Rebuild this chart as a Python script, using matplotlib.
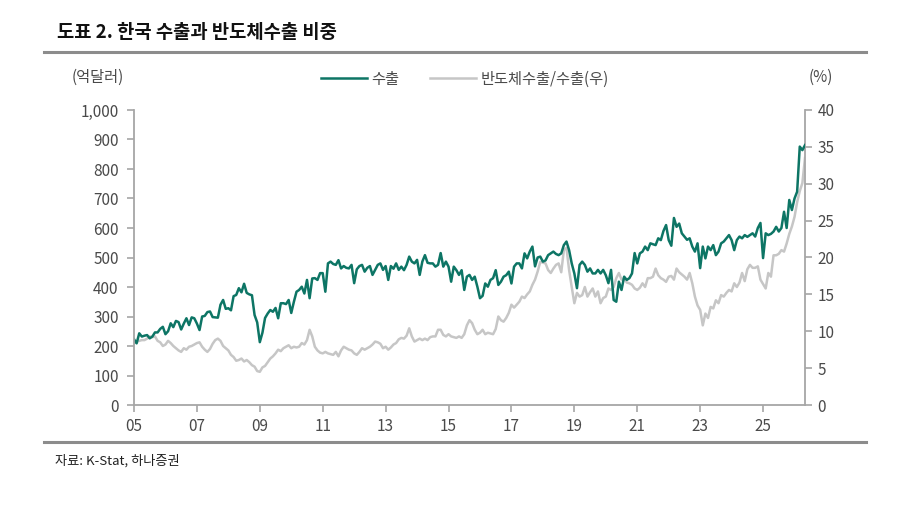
import numpy as np
import matplotlib
matplotlib.use('Agg')
import matplotlib.pyplot as plt
from matplotlib.lines import Line2D

plt.rcParams['font.family'] = ['Noto Sans CJK KR', 'DejaVu Sans']

#%% data (monthly, Jan 2005 ~ May 2026)
# 수출 (억달러)
exports = [
    223, 209, 243, 232, 235, 237, 226, 232, 246, 246, 258, 265,   # 2005
    240, 250, 277, 264, 285, 281, 256, 276, 294, 271, 297, 294,   # 2006
    276, 254, 300, 302, 315, 317, 298, 297, 296, 340, 356, 326,   # 2007
    328, 321, 369, 373, 396, 382, 411, 380, 375, 372, 305, 280,   # 2008
    213, 245, 295, 310, 322, 316, 329, 294, 345, 345, 342, 356,   # 2009
    312, 350, 384, 390, 401, 378, 424, 362, 429, 430, 424, 447,   # 2010
    447, 384, 480, 486, 478, 475, 491, 463, 471, 465, 463, 475,   # 2011
    413, 460, 471, 475, 452, 465, 471, 441, 458, 475, 480, 458,   # 2012
    471, 424, 471, 462, 480, 458, 469, 457, 475, 503, 486, 480,   # 2013
    492, 441, 486, 508, 482, 480, 480, 469, 475, 515, 469, 486,   # 2014
    469, 418, 469, 457, 441, 457, 390, 435, 441, 424, 435, 401,   # 2015
    362, 370, 412, 401, 424, 430, 457, 407, 418, 435, 440, 452,   # 2016
    412, 469, 480, 480, 463, 514, 497, 520, 537, 470, 500, 503,   # 2017
    486, 490, 508, 514, 520, 512, 508, 514, 542, 554, 525, 480,   # 2018
    446, 396, 475, 486, 475, 452, 463, 446, 446, 458, 446, 458,   # 2019
    440, 413, 458, 356, 350, 418, 390, 435, 424, 430, 446, 515,   # 2020
    480, 514, 520, 537, 525, 548, 545, 542, 565, 559, 590, 610,   # 2021
    559, 540, 634, 604, 615, 582, 571, 560, 565, 537, 520, 548,   # 2022
    464, 537, 497, 537, 525, 542, 508, 520, 548, 554, 565, 576,   # 2023
    559, 525, 559, 571, 565, 576, 570, 576, 582, 571, 600, 617,   # 2024
    498, 582, 576, 580, 588, 604, 588, 600, 655, 600, 695, 661,   # 2025
    700, 723, 876, 864, 881,                                      # 2026
]
# 반도체수출/수출 (%)
semi_share = [
    8.4, 8.6, 8.7, 8.8, 8.8, 9.0, 9.3, 9.2, 9.3, 8.7, 8.5, 8.0,
    8.2, 8.7, 8.4, 8.0, 7.7, 7.4, 7.2, 7.7, 7.5, 7.9, 8.0, 8.2,
    8.4, 8.5, 7.9, 7.5, 7.2, 7.6, 8.3, 8.8, 9.0, 8.7, 8.0, 7.7,
    7.4, 6.8, 6.5, 6.0, 6.1, 6.3, 5.9, 6.1, 5.8, 5.4, 5.2, 4.6,
    4.5, 5.1, 5.3, 5.8, 6.3, 6.6, 7.0, 7.5, 7.3, 7.7, 7.9, 8.1,
    7.7, 7.9, 7.8, 7.9, 8.4, 8.2, 8.8, 10.2, 9.3, 7.9, 7.4, 7.1,
    7.0, 7.2, 7.0, 6.9, 6.8, 7.2, 6.6, 7.4, 7.9, 7.7, 7.5, 7.4,
    7.0, 6.8, 7.2, 7.7, 7.5, 7.7, 7.9, 8.2, 8.6, 8.5, 8.3, 7.7,
    7.9, 7.5, 7.8, 8.2, 8.4, 8.9, 9.1, 9.0, 9.4, 10.4, 9.3, 8.6,
    8.8, 9.0, 8.8, 9.0, 8.8, 9.2, 9.3, 9.3, 10.2, 10.2, 9.5, 9.3,
    9.6, 9.3, 9.2, 9.1, 9.3, 9.1, 9.6, 10.8, 11.5, 11.1, 10.2, 9.6,
    9.8, 10.2, 9.6, 9.8, 9.7, 9.6, 10.3, 12.0, 11.5, 11.3, 11.8, 12.5,
    13.6, 13.2, 13.6, 14.0, 14.7, 14.5, 15.0, 15.4, 16.3, 17.0, 18.1, 19.4,
    19.3, 19.2, 18.3, 17.9, 18.5, 19.0, 19.2, 18.0, 21.0, 21.3, 18.3, 16.0,
    13.8, 15.2, 14.7, 14.9, 16.0, 14.7, 15.3, 15.8, 14.7, 15.4, 13.8, 14.5,
    14.7, 15.8, 15.6, 16.0, 17.2, 17.9, 17.0, 17.2, 16.6, 16.5, 16.3, 15.8,
    15.6, 15.9, 16.5, 16.0, 17.2, 17.2, 17.4, 18.5, 17.6, 17.2, 17.0, 16.7,
    17.4, 17.5, 17.0, 18.5, 18.0, 17.7, 17.4, 17.0, 17.9, 16.5, 14.7, 13.5,
    12.9, 10.8, 12.4, 11.8, 13.3, 13.1, 14.2, 13.8, 14.9, 14.7, 15.2, 15.6,
    15.4, 16.5, 16.0, 16.6, 17.9, 16.8, 18.4, 19.0, 18.6, 18.6, 18.8, 17.0,
    16.4, 15.8, 17.9, 17.4, 20.3, 20.3, 20.5, 21.0, 20.8, 21.9, 23.2, 24.2,
    25.5, 27.5, 29.0, 30.1, 33.5,
]
year_labels = ['05', '07', '09', '11', '13', '15', '17', '19', '21', '23', '25']
left_ticks = [0, 100, 200, 300, 400, 500, 600, 700, 800, 900, 1000]
right_ticks = [0, 5, 10, 15, 20, 25, 30, 35, 40]

#%% plot
W, H = 920, 511
fig = plt.figure(figsize=(W / 100, H / 100), dpi=100)

green = '#0d7565'
grey = '#c6c6c6'
axis_col = '#a6a6a6'
txt_col = '#4a4a4a'

ax = fig.add_axes([134 / W, 1 - 405 / H, (805 - 134) / W, (405 - 110) / H])
ax2 = ax.twinx()

x = np.arange(len(exports))
ln2, = ax2.plot(x, semi_share, color=grey, lw=1.8, label='반도체수출/수출(우)')
ln1, = ax.plot(x, exports, color=green, lw=1.8, label='수출')
ax.set_zorder(ax2.get_zorder() + 1)
ax.patch.set_visible(False)

ax.set_xlim(0, len(exports) - 1)
ax.set_ylim(0, 1000)
ax2.set_ylim(0, 40)
ax.set_xticks(np.arange(len(year_labels)) * 24)
ax.set_xticklabels(year_labels)
ax.set_yticks(left_ticks)
ax.set_yticklabels([f'{v:,}' for v in left_ticks])
ax2.set_yticks(right_ticks)

for a in (ax, ax2):
    for s in a.spines.values():
        s.set_visible(False)
ax.spines['left'].set_visible(True)
ax.spines['bottom'].set_visible(True)
ax2.spines['right'].set_visible(True)
for s in (ax.spines['left'], ax.spines['bottom'], ax2.spines['right']):
    s.set_color(axis_col)
    s.set_linewidth(1.3)

ax.tick_params(axis='both', direction='out', length=5, width=1.2, color=axis_col,
               labelsize=11, labelcolor=txt_col, pad=6)
ax.tick_params(axis='x', pad=4)
ax2.tick_params(axis='y', direction='out', length=5, width=1.2, color=axis_col,
                labelsize=11, labelcolor=txt_col, pad=4)

# unit labels
fig.text(98 / W, 1 - 77 / H, '(억달러)', ha='center', va='center', fontsize=11, color=txt_col)
fig.text(821 / W, 1 - 77 / H, '(%)', ha='center', va='center', fontsize=11, color=txt_col)

# legend
fig.legend(handles=[ln1, ln2], loc='center', bbox_to_anchor=(465 / W, 1 - 79 / H), ncol=2,
           frameon=False, fontsize=11, handlelength=3.0, handletextpad=0.3,
           columnspacing=2.0, labelcolor=txt_col)

# title, rules, source
fig.text(57 / W, 1 - 33 / H, '도표 2. 한국 수출과 반도체수출 비중', ha='left', va='center',
         fontsize=13.5, fontweight='bold', color='#111111')
for yy in (52, 442):
    fig.add_artist(Line2D([44 / W, 866 / W], [1 - yy / H, 1 - yy / H], color='#8c8c8c', lw=2.2))
fig.text(55 / W, 1 - 461 / H, '자료: K-Stat, 하나증권', ha='left', va='center',
         fontsize=9.5, color='#222222')

fig.savefig('out.png', dpi=100)
